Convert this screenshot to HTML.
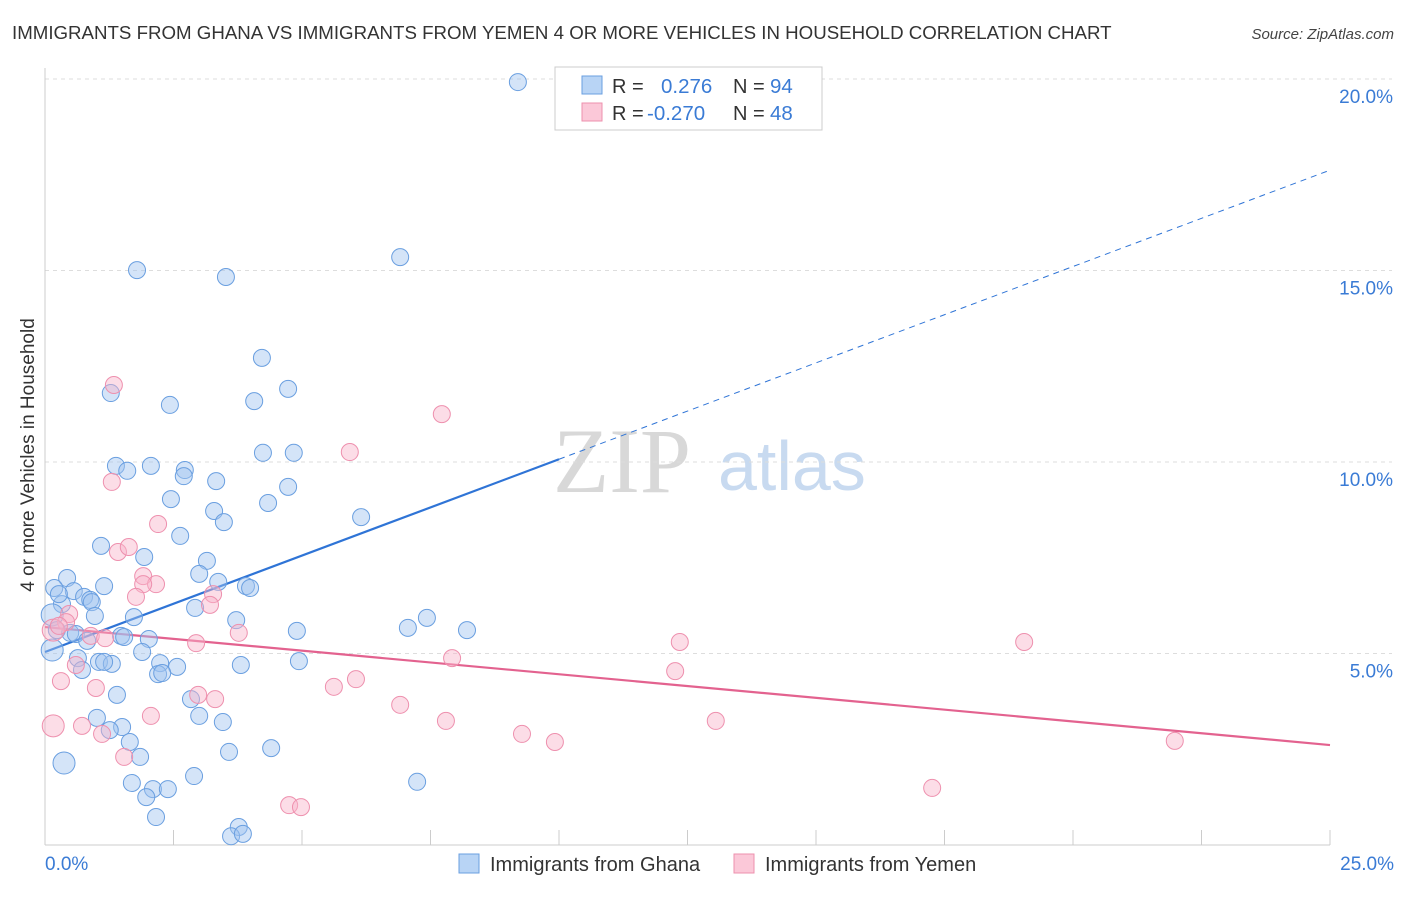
<!DOCTYPE html>
<html><head><meta charset="utf-8"><style>
body{margin:0;background:#fff;font-family:"Liberation Sans",sans-serif;}
svg text{font-family:"Liberation Sans",sans-serif;}
</style></head><body>
<svg id="chart" width="1406" height="892" xmlns="http://www.w3.org/2000/svg">
<text x="12" y="39" font-size="18.7" fill="#333">IMMIGRANTS FROM GHANA VS IMMIGRANTS FROM YEMEN 4 OR MORE VEHICLES IN HOUSEHOLD CORRELATION CHART</text>
<text x="1394" y="39" font-size="15" fill="#444" text-anchor="end" font-style="italic">Source: ZipAtlas.com</text>
<text transform="translate(34,455) rotate(-90)" font-size="19" fill="#333" text-anchor="middle">4 or more Vehicles in Household</text>
<g>
<text x="553" y="492" font-size="92" fill="#d8d8d8" style="font-family:'Liberation Serif',serif">ZIP</text>
<text x="718" y="490" font-size="70" fill="#c8daf0">atlas</text>
</g>
<g id="grid"></g><g id="axes"></g><g id="trends"></g><g id="pts"></g>
<g>
<rect x="555" y="67" width="267" height="63" fill="#fff" stroke="#ccc"/>
<rect x="582" y="76" width="20" height="18" fill="#b8d4f5" stroke="#6a9fe0"/>
<rect x="582" y="103" width="20" height="18" fill="#fbc8d8" stroke="#ee90ae"/>
<text x="612" y="93" font-size="20" fill="#333">R =</text>
<text x="661" y="93" font-size="20.5" fill="#3a7bd5">0.276</text>
<text x="733" y="93" font-size="20" fill="#333">N =</text>
<text x="770" y="93" font-size="20.5" fill="#3a7bd5">94</text>
<text x="612" y="120" font-size="20" fill="#333">R =</text>
<text x="647" y="120" font-size="20.5" fill="#3a7bd5">-0.270</text>
<text x="733" y="120" font-size="20" fill="#333">N =</text>
<text x="770" y="120" font-size="20.5" fill="#3a7bd5">48</text>
</g>
<g>
<rect x="459" y="854" width="20" height="19" fill="#b8d4f5" stroke="#6a9fe0"/>
<text x="490" y="871" font-size="20" fill="#333">Immigrants from Ghana</text>
<rect x="734" y="854" width="20" height="19" fill="#fbc8d8" stroke="#ee90ae"/>
<text x="765" y="871" font-size="20" fill="#333">Immigrants from Yemen</text>
</g>
<text x="45" y="870" font-size="19" fill="#3a7bd5">0.0%</text>
<text x="1394" y="870" font-size="19" fill="#3a7bd5" text-anchor="end">25.0%</text>
</svg>
<script>
const yTicks=[5,10,15,20];
const xTickVals=[0,2.5,5,7.5,10,12.5,15,17.5,20,22.5,25];
const ghanaX=[9.20,1.79,3.52,6.91,4.22,4.73,1.28,2.43,4.07,4.24,4.84,1.38,1.60,2.06,2.72,2.70,3.33,4.73,2.45,4.34,3.29,3.48,6.15,2.63,1.09,1.93,3.15,3.00,0.43,0.18,0.56,1.15,3.37,3.91,3.99,0.76,0.88,0.91,0.33,0.27,2.92,0.97,1.73,3.72,7.43,7.06,8.21,4.90,0.14,0.23,0.49,0.60,1.48,1.54,2.02,0.82,0.14,1.89,0.64,1.05,1.30,2.24,1.15,2.57,3.81,4.94,0.72,2.20,2.28,1.40,2.84,1.01,3.00,3.46,1.50,1.26,1.65,3.58,4.40,1.85,0.37,2.90,1.69,7.24,2.10,2.39,1.97,2.16,3.77,3.62,3.85];
const ghanaY=[19.92,15.01,14.83,15.35,12.72,11.91,11.80,11.49,11.59,10.24,10.24,9.90,9.77,9.90,9.79,9.63,9.50,9.35,9.03,8.93,8.72,8.43,8.56,8.07,7.81,7.52,7.42,7.08,6.97,6.71,6.63,6.76,6.87,6.76,6.71,6.48,6.40,6.34,6.29,6.55,6.19,5.98,5.95,5.87,5.93,5.67,5.61,5.59,6.01,5.61,5.54,5.51,5.46,5.43,5.38,5.33,5.09,5.04,4.88,4.78,4.73,4.75,4.78,4.65,4.70,4.80,4.57,4.46,4.49,3.92,3.81,3.32,3.37,3.21,3.08,3.00,2.69,2.43,2.53,2.30,2.14,1.80,1.62,1.65,1.46,1.46,1.25,0.73,0.47,0.23,0.29];
const yemenX=[1.34,7.72,5.93,1.30,2.20,1.42,1.63,1.91,2.16,1.91,1.77,3.27,3.21,0.47,0.41,0.16,0.27,3.77,0.89,1.17,2.94,12.35,19.05,7.92,0.60,12.26,0.31,0.99,6.05,5.62,2.98,3.31,6.91,2.06,7.80,13.05,0.72,0.16,1.11,9.28,9.92,1.54,21.98,17.26,4.75,4.98];
const yemenY=[12.01,11.25,10.26,9.48,8.38,7.65,7.78,7.02,6.81,6.81,6.48,6.55,6.27,6.03,5.82,5.61,5.72,5.54,5.46,5.40,5.27,5.30,5.30,4.88,4.70,4.54,4.28,4.10,4.33,4.13,3.92,3.81,3.66,3.37,3.24,3.24,3.11,3.11,2.90,2.90,2.69,2.30,2.72,1.49,1.04,0.99];
const ghanaTrend=[5.04,17.62];
const yemenTrend=[5.69,2.61];
const bigG=[48,80,56], bigY=[37,15];
const X=v=>45+v/25*1285, Y=v=>845-v/5*191.5;
const NS='http://www.w3.org/2000/svg';
function mk(t,a,p){const e=document.createElementNS(NS,t);for(const k in a)e.setAttribute(k,a[k]);p.appendChild(e);return e;}
const grid=document.getElementById('grid'),axes=document.getElementById('axes'),tr=document.getElementById('trends'),pts=document.getElementById('pts');
yTicks.forEach(v=>{
 const l=mk('line',{x1:45,x2:1392,y1:Y(v),y2:Y(v),stroke:'#ddd','stroke-dasharray':'4,4'},grid);
 
 
 const t=mk('text',{x:1393,y:Y(v)+24,'font-size':19,fill:'#3a7bd5','text-anchor':'end'},grid);
 t.textContent=v.toFixed(1)+'%';
 
 
});
const topLine=mk('line',{x1:45,x2:1392,y1:79,y2:79,stroke:'#ddd','stroke-dasharray':'4,4'},grid);


const ya=mk('line',{x1:45,x2:45,y1:68,y2:845,stroke:'#ccc'},axes);


const xa=mk('line',{x1:45,x2:1330,y1:845,y2:845,stroke:'#ccc'},axes);


xTickVals.forEach(v=>{const t=mk('line',{x1:X(v),x2:X(v),y1:830,y2:845,stroke:'#ccc'},axes);
 
 });
function trend(c,col,solidTo,name){
 const f=x=>c[0]+(c[1]-c[0])*x/25;
 const a=mk('line',{x1:X(0),y1:Y(f(0)),x2:X(solidTo),y2:Y(f(solidTo)),stroke:col,'stroke-width':2.2},tr);
 
 
 if(solidTo<25){const b=mk('line',{x1:X(solidTo),y1:Y(f(solidTo)),x2:X(25),y2:Y(f(25)),stroke:col,'stroke-width':1,'stroke-dasharray':'6,5'},tr);
  
  }
}
trend(ghanaTrend,'#2f74d6',10,'ghana-trendline');
trend(yemenTrend,'#e3628f',25,'yemen-trendline');
ghanaX.forEach((x,i)=>{const c=mk('circle',{cx:X(x),cy:Y(ghanaY[i]),r:bigG.includes(i)?11:8.5,fill:'rgba(160,196,240,0.45)',stroke:'#6a9fe0','stroke-width':1},pts);
 
 });
yemenX.forEach((x,i)=>{const c=mk('circle',{cx:X(x),cy:Y(yemenY[i]),r:bigY.includes(i)?11:8.5,fill:'rgba(248,180,202,0.45)',stroke:'#ee90ae','stroke-width':1},pts);
 
 });
</script>
</body></html>
